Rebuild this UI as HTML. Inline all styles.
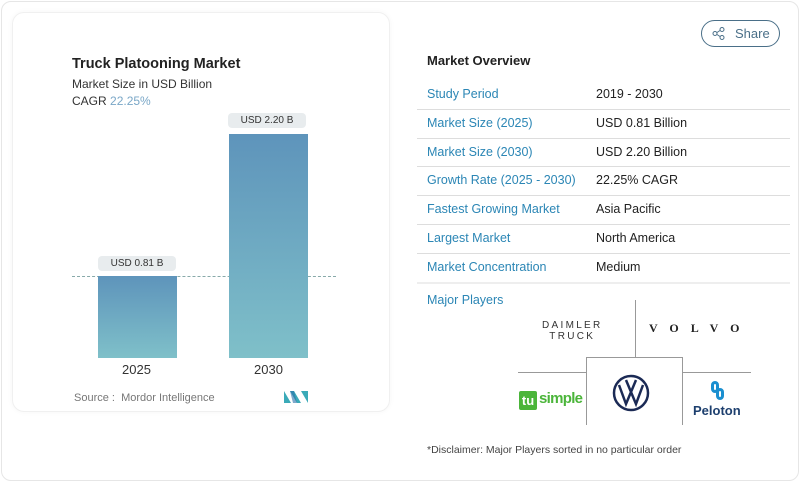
<!DOCTYPE html><html><head><style>
*{margin:0;padding:0;box-sizing:border-box}
body{width:800px;height:482px;background:#fff;font-family:"Liberation Sans",sans-serif;position:relative;overflow:hidden;color:#222}
.a{position:absolute;white-space:nowrap}
.l{color:#2b86b5;font-size:12.5px}
.v{color:#222;font-size:12.5px}
.sep{position:absolute;left:417px;width:373px;height:1px;background:#ddd}
</style></head><body>
<div class="a" style="left:1px;top:1px;width:798px;height:480px;border:1px solid #e6e6e6;border-radius:10px"></div>
<div class="a" style="left:12px;top:12px;width:378px;height:400px;border:1px solid #f0f0f0;border-radius:12px;box-shadow:0 0 6px rgba(0,0,0,0.04)"></div>
<div class="a" style="left:72px;top:56px;font-size:14.5px;font-weight:bold;color:#222">Truck Platooning Market</div>
<div class="a" style="left:72px;top:77px;font-size:12px;color:#333">Market Size in USD Billion</div>
<div class="a" style="left:72px;top:94px;font-size:12px;color:#333">CAGR <span style="color:#7aa7c7">22.25%</span></div>
<div class="a" style="left:72px;top:276px;width:264px;border-top:1px dashed #8aa"></div>
<div class="a" style="left:98px;top:276px;width:79px;height:82px;background:linear-gradient(#5e94bb,#7fc0c9)"></div>
<div class="a" style="left:229px;top:134px;width:79px;height:224px;background:linear-gradient(#5e94bb,#7fc0c9)"></div>
<div class="a" style="left:98px;top:256px;width:78px;height:15px;background:#e8ecee;border-radius:4px;font-size:10px;text-align:center;line-height:15px;color:#333">USD 0.81 B</div>
<div class="a" style="left:228px;top:113px;width:78px;height:15px;background:#e8ecee;border-radius:4px;font-size:10px;text-align:center;line-height:15px;color:#333">USD 2.20 B</div>
<div class="a" style="left:122px;top:362px;font-size:13px;color:#333">2025</div>
<div class="a" style="left:254px;top:362px;font-size:13px;color:#333">2030</div>
<div class="a" style="left:74px;top:392px;font-size:11px;color:#777">Source :&nbsp; Mordor Intelligence</div>
<svg class="a" style="left:284px;top:391px" width="24" height="12"><path d="M0 12V0L7 12ZM6 0H10L17 12H13ZM17 0L24 12V0Z" fill="#3aaab8"/><path d="M6 0L10 0 13 12 9 12Z" fill="#2a6fa8" opacity=".6"/></svg>
<div class="a" style="left:701px;top:20px;width:79px;height:27px;border:1px solid #4a6f88;border-radius:14px;font-size:13px;color:#4a6f88;line-height:25px;padding-left:33px">Share</div>
<svg class="a" style="left:712px;top:27px" width="13" height="13"><circle cx="10" cy="2.5" r="2" fill="none" stroke="#4a6f88"/><circle cx="10" cy="10.5" r="2" fill="none" stroke="#4a6f88"/><circle cx="3" cy="6.5" r="2" fill="none" stroke="#4a6f88"/><path d="M5 5.5L8 3.5M5 7.5L8 9.5" stroke="#4a6f88"/></svg>
<div class="a" style="left:427px;top:53px;font-size:13px;font-weight:bold;color:#222">Market Overview</div>
<div class="a l" style="left:427px;top:87px">Study Period</div><div class="a v" style="left:596px;top:87px">2019 - 2030</div>
<div class="sep" style="top:109px"></div>
<div class="a l" style="left:427px;top:116px">Market Size (2025)</div><div class="a v" style="left:596px;top:116px">USD 0.81 Billion</div>
<div class="sep" style="top:138px"></div>
<div class="a l" style="left:427px;top:145px">Market Size (2030)</div><div class="a v" style="left:596px;top:145px">USD 2.20 Billion</div>
<div class="sep" style="top:166px"></div>
<div class="a l" style="left:427px;top:173px">Growth Rate (2025 - 2030)</div><div class="a v" style="left:596px;top:173px">22.25% CAGR</div>
<div class="sep" style="top:195px"></div>
<div class="a l" style="left:427px;top:202px">Fastest Growing Market</div><div class="a v" style="left:596px;top:202px">Asia Pacific</div>
<div class="sep" style="top:224px"></div>
<div class="a l" style="left:427px;top:231px">Largest Market</div><div class="a v" style="left:596px;top:231px">North America</div>
<div class="sep" style="top:253px"></div>
<div class="a l" style="left:427px;top:260px">Market Concentration</div><div class="a v" style="left:596px;top:260px">Medium</div>
<div class="sep" style="top:282px;height:2px;background:#eee"></div>
<div class="a l" style="left:427px;top:293px">Major Players</div>
<div class="a" style="left:635px;top:300px;width:1px;height:57px;background:#999"></div>
<div class="a" style="left:518px;top:372px;width:68px;height:1px;background:#999"></div>
<div class="a" style="left:683px;top:372px;width:68px;height:1px;background:#999"></div>
<div class="a" style="left:586px;top:357px;width:97px;height:68px;border:1px solid #999;border-bottom:none"></div>
<div class="a" style="left:542px;top:320px;font-size:10px;letter-spacing:2.3px;line-height:11px;text-align:center;color:#333">DAIMLER<br>TRUCK</div>
<div class="a" style="left:649px;top:321px;font-size:12px;font-weight:bold;letter-spacing:12px;font-family:'Liberation Serif',serif;color:#222">VOLVO</div>
<div class="a" style="left:519px;top:391px;width:18px;height:19px;background:#4bb53a;border-radius:2px;color:#fff;font-size:13px;font-weight:bold;line-height:19px;text-align:center">tu</div>
<div class="a" style="left:539px;top:390px;font-size:15px;font-weight:bold;color:#4bb53a;letter-spacing:-0.7px">simple</div>
<svg class="a" style="left:612px;top:374px" width="38" height="38"><circle cx="19" cy="19" r="17" fill="none" stroke="#1b2a55" stroke-width="2.5"/><path d="M7 11L14 30L19 18L24 30L31 11M14 6L19 18L24 6" fill="none" stroke="#1b2a55" stroke-width="2.5"/></svg>
<div class="a" style="left:711px;top:381px;width:8px;height:12px;border:3px solid #1a8fd0;border-radius:4px"></div>
<div class="a" style="left:716px;top:388px;width:8px;height:12px;border:3px solid #1a8fd0;border-radius:4px"></div>
<div class="a" style="left:693px;top:403px;font-size:13px;font-weight:bold;color:#1d3f6e">Peloton</div>
<div class="a" style="left:427px;top:444px;font-size:10.5px;color:#444">*Disclaimer: Major Players sorted in no particular order</div>
</body></html>
